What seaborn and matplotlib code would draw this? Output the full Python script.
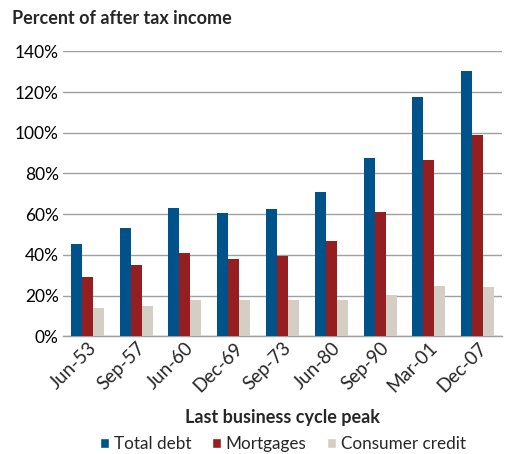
import matplotlib
matplotlib.use("Agg")
import matplotlib.pyplot as plt
import numpy as np
import pandas as pd
import seaborn as sns
from matplotlib.patches import Patch
from matplotlib.ticker import FixedLocator, PercentFormatter

# Values (percent of after tax income)
peaks = ["Jun-53", "Sep-57", "Jun-60", "Dec-69", "Sep-73",
         "Jun-80", "Sep-90", "Mar-01", "Dec-07"]
total_debt = [45.4, 53.2, 63.0, 60.6, 62.6, 70.9, 87.6, 117.6, 130.4]
mortgages = [29.1, 35.0, 40.9, 38.0, 39.6, 46.8, 61.1, 86.8, 98.9]
consumer_credit = [14.1, 15.1, 18.0, 18.0, 17.8, 17.8, 20.3, 24.7, 24.2]

series = ["Total debt", "Mortgages", "Consumer credit"]
colors = ["#00528A", "#951E20", "#D4CEC4"]

df = pd.DataFrame({
    "peak": peaks * 3,
    "series": np.repeat(series, len(peaks)),
    "value": total_debt + mortgages + consumer_credit,
})

sns.set_style("white")
plt.rcParams["font.family"] = ["Lato", "DejaVu Sans"]

fig = plt.figure(figsize=(5.1, 4.54), dpi=100)
ax = fig.add_axes([63 / 510, 1 - 336.3 / 454, 439 / 510, 285 / 454])

sns.barplot(
    data=df, x="peak", y="value", hue="series", hue_order=series,
    palette=colors, width=0.675, gap=0, saturation=1, linewidth=0,
    ax=ax, legend=False, zorder=3,
)

ax.set_ylim(0, 140)
ax.set_xlim(-0.5, len(peaks) - 0.5)
ax.yaxis.set_major_locator(FixedLocator(np.arange(0, 141, 20)))
ax.yaxis.set_major_formatter(PercentFormatter(decimals=0))
ax.grid(axis="y", color="#A0A0A0", linewidth=1, zorder=0)
ax.set_axisbelow(True)

for side in ["left", "right", "top"]:
    ax.spines[side].set_visible(False)
ax.spines["bottom"].set_color("#A0A0A0")
ax.spines["bottom"].set_linewidth(1)

ax.tick_params(axis="y", length=0, labelsize=12.5, pad=3, labelcolor="black")
ax.tick_params(axis="x", which="major", length=0, labelsize=13.5, pad=2)
ax.set_xticks(np.arange(-0.5, len(peaks)), minor=True)
ax.tick_params(axis="x", which="minor", length=4, color="#A0A0A0", width=1)
plt.setp(ax.get_xticklabels(), rotation=45, ha="right",
         rotation_mode="anchor")

ax.set_ylabel("")
ax.set_xlabel("Last business cycle peak", fontsize=13,
              fontweight="bold", labelpad=10)

fig.text(12 / 510, 1 - 18 / 454, "Percent of after tax income",
         fontsize=13, fontweight="bold", va="center", ha="left")

handles = [Patch(facecolor=c, label=s) for c, s in zip(colors, series)]
fig.legend(handles=handles, loc="center", bbox_to_anchor=(283 / 510, 1 - 444 / 454),
           ncol=3, frameon=False, fontsize=12.3, handlelength=0.5,
           handleheight=0.5, handletextpad=0.3, columnspacing=1.2)

fig.savefig("out.png", dpi=100)
